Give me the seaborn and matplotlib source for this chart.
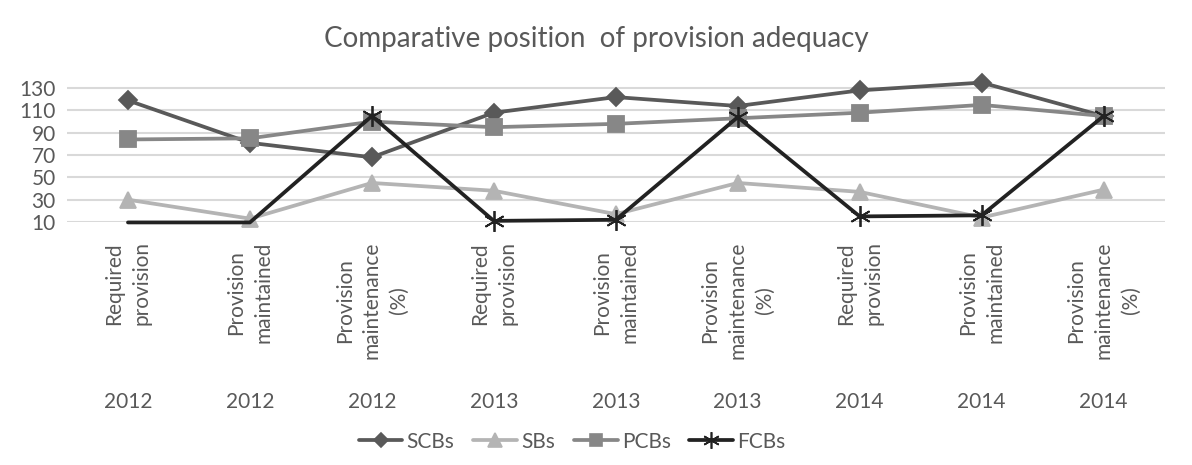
import pandas as pd
import matplotlib.pyplot as plt
import seaborn as sns
from matplotlib.lines import Line2D

# categories (inner level / outer level of the x axis)
measures = ["Required\nprovision", "Provision\nmaintained", "Provision\nmaintenance\n(%)"] * 3
years = ["2012"] * 3 + ["2013"] * 3 + ["2014"] * 3

# series values (FCBs 2012 points sit just under the axis floor)
scbs = [119, 81, 68, 108, 122, 114, 128, 135, 105]
sbs = [30, 13, 45, 38, 17, 45, 37, 14, 39]
pcbs = [84, 85, 100, 95, 98, 103, 108, 115, 105]
fcbs = [9.6, 9.6, 105, 11, 12, 104, 15, 16, 105]

series = {"SCBs": scbs, "SBs": sbs, "PCBs": pcbs, "FCBs": fcbs}
colors = {"SCBs": "#595959", "SBs": "#b4b4b4", "PCBs": "#878787", "FCBs": "#222222"}
markers = {"SCBs": "D", "SBs": "^", "PCBs": "s", "FCBs": (6, 2, 0)}
msizes = {"SCBs": 9.5, "SBs": 12, "PCBs": 11.5, "FCBs": 15}

y_min, y_max = 10, 140

rows = []
for name, vals in series.items():
    for i, v in enumerate(vals):
        rows.append({"pos": i, "value": v, "series": name})
df = pd.DataFrame(rows)

sns.set_style("white")
plt.rcParams["font.family"] = ["Lato", "DejaVu Sans"]
text_color = "#595959"
fs = 15

fig = plt.figure(figsize=(11.92, 4.65), dpi=100)
ax = fig.add_axes([0.0562, 0.5226, 0.977 - 0.0562, 0.8344 - 0.5226])

for name in series:
    sub = df[df["series"] == name].reset_index(drop=True)
    # like Excel, no marker for points below the axis minimum
    shown = [i for i, v in enumerate(sub["value"]) if v >= y_min]
    sns.lineplot(data=sub, x="pos", y="value", ax=ax, color=colors[name], linewidth=2.7,
                 marker=markers[name], markersize=msizes[name], markevery=shown,
                 markeredgecolor=colors[name], markerfacecolor=colors[name],
                 markeredgewidth=1.3, legend=False, clip_on=False)

ax.set_xlim(-0.5, 8.5)
ax.set_ylim(y_min, y_max)
ax.set_yticks(range(10, 131, 20))
ax.yaxis.grid(True, color="#d9d9d9", linewidth=1.5)
ax.set_axisbelow(True)
for s in ax.spines.values():
    s.set_visible(False)
ax.tick_params(axis="y", length=0, labelsize=fs, labelcolor=text_color, pad=8)
ax.set_xticks(range(len(measures)))
ax.set_xticklabels(measures, rotation=90, va="top", ha="center", multialignment="center",
                   fontsize=fs, color=text_color, linespacing=1.45)
ax.tick_params(axis="x", length=0, pad=14)
ax.set_xlabel("")
ax.set_ylabel("")

for i, y in enumerate(years):
    ax.text(i, -1.24, y, transform=ax.get_xaxis_transform(), ha="center", va="center",
            fontsize=fs, color=text_color)

fig.suptitle("Comparative position  of provision adequacy", x=0.5, y=0.945,
             fontsize=20, color=text_color)

handles = [Line2D([], [], color=colors[n], linewidth=2.7, marker=markers[n],
                  markersize=msizes[n] * 0.8, markeredgecolor=colors[n],
                  markerfacecolor=colors[n], markeredgewidth=1.2) for n in series]
fig.legend(handles, list(series), loc="center", bbox_to_anchor=(0.48, 0.05), ncol=4,
           frameon=False, fontsize=fs, labelcolor=text_color, handlelength=2.1,
           columnspacing=0.9, handletextpad=0.2)

plt.savefig("out.png", dpi=100)
